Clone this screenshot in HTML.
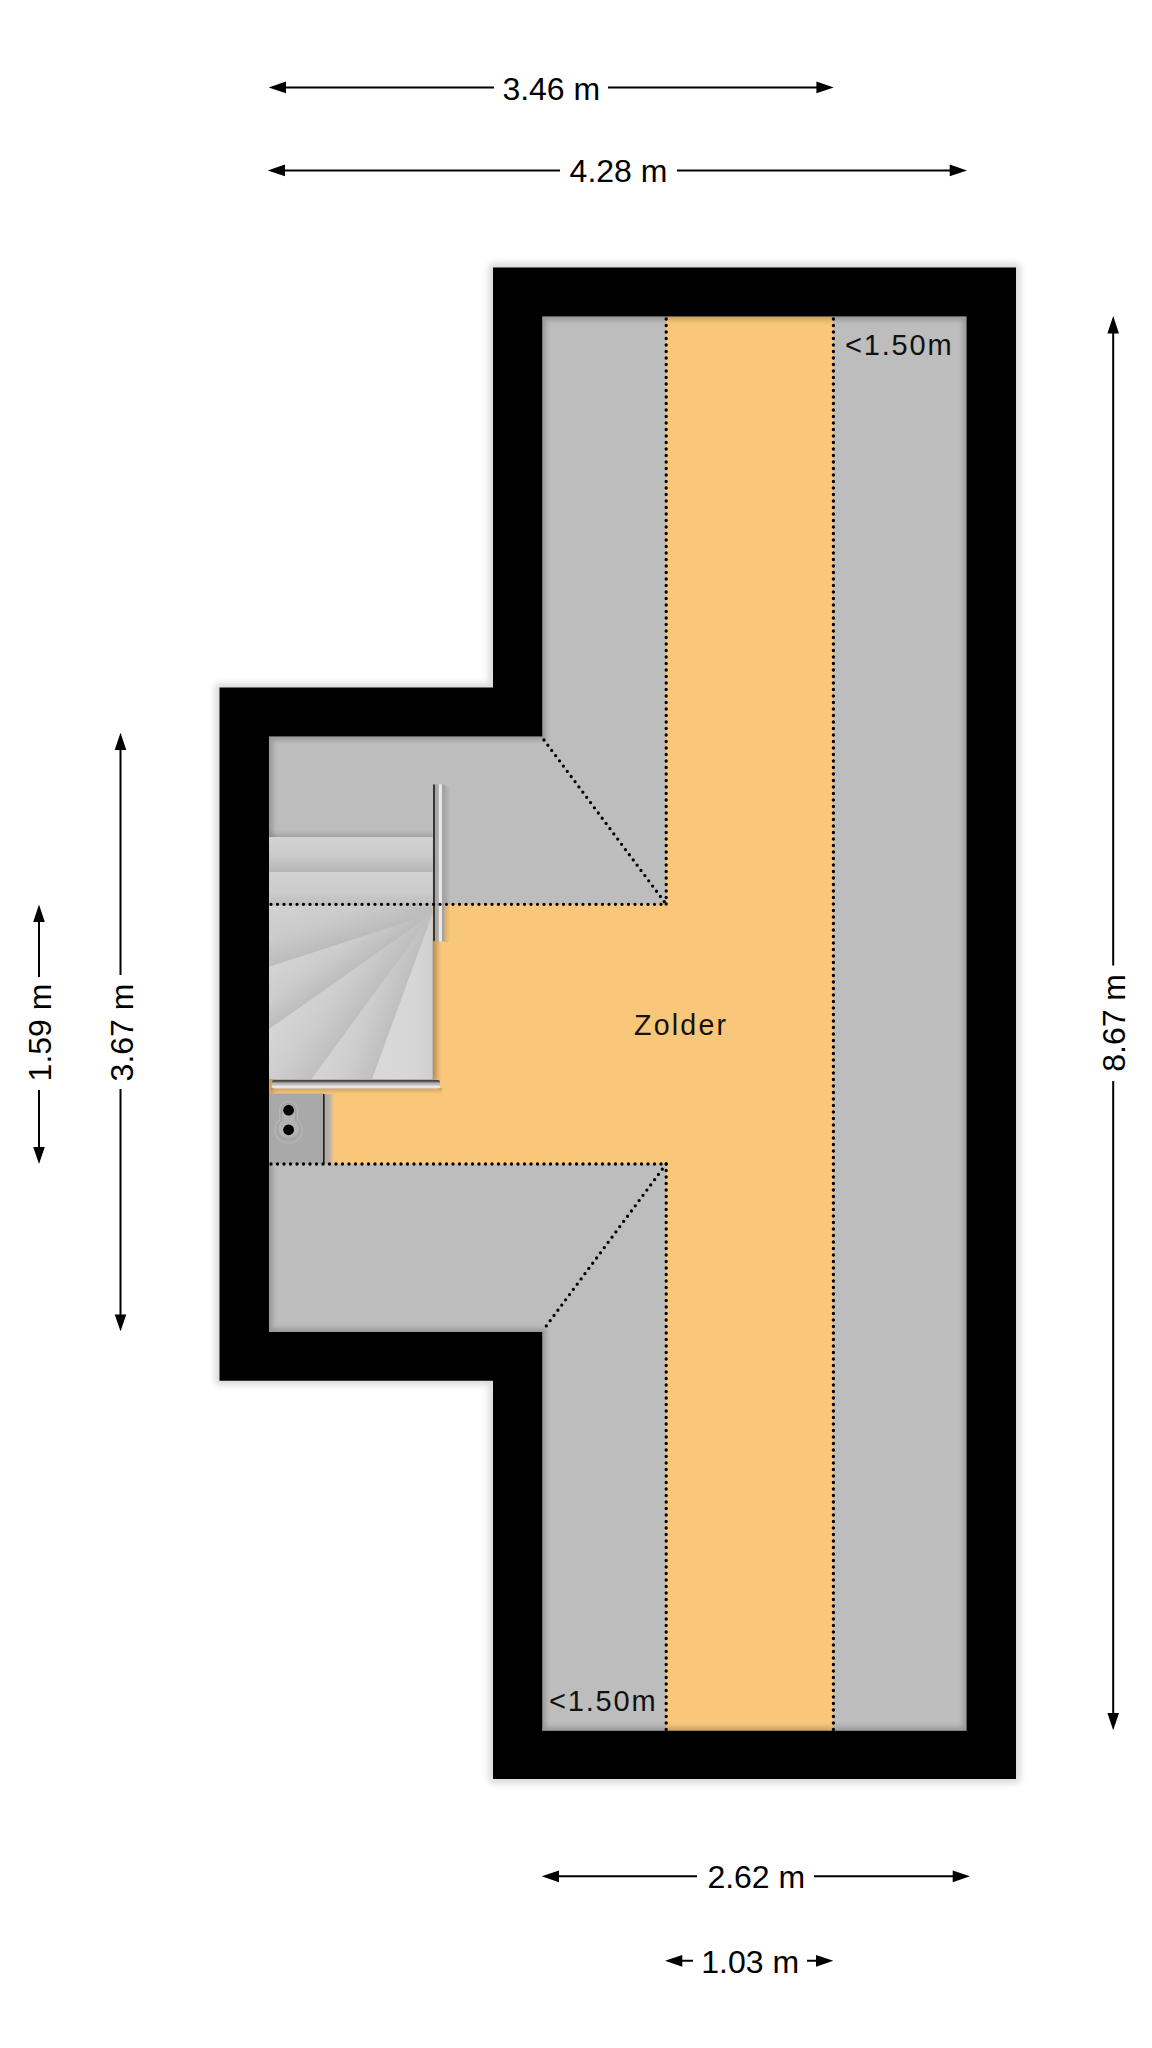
<!DOCTYPE html>
<html><head><meta charset="utf-8">
<style>
html,body{margin:0;padding:0;background:#fff;width:1152px;height:2048px;overflow:hidden}
svg{display:block}
text{font-family:"Liberation Sans",sans-serif}
.dim{font-size:32px;fill:#000}
.lbl{font-size:29px;fill:#111;letter-spacing:1.8px}
.dl{stroke:#000;stroke-width:2.0;fill:none}
.dot{stroke:#000;stroke-width:3.3;stroke-linecap:round;stroke-dasharray:0 6.5;fill:none}
</style></head>
<body>
<svg width="1152" height="2048" viewBox="0 0 1152 2048">
<defs>
  <filter id="osh" x="-20%" y="-20%" width="140%" height="140%">
    <feGaussianBlur stdDeviation="3"/>
  </filter>
  <filter id="ish" x="-20%" y="-20%" width="140%" height="140%">
    <feGaussianBlur stdDeviation="2.6"/>
  </filter>
  <clipPath id="room"><path d="M542.3 316.6H966.5V1730.7H542.3V1332H269V736.6H542.3Z"/></clipPath>
</defs>
<!-- outer shadow -->
<path d="M493 267.4H1016V1779H493V1380.8H219.5V687.6H493Z" fill="#000" stroke="#000" stroke-width="9" stroke-linejoin="round" opacity="0.14" filter="url(#osh)"/>

<!-- room floor -->
<path d="M542.3 316.6H966.5V1730.7H542.3V1332H269V736.6H542.3Z" fill="#bdbdbd"/>
<!-- orange T -->
<path d="M666 316.6H833.5V1730.7H666V1164H269V904.3H666Z" fill="#f9c77a"/>
<!-- inner shadow -->
<g clip-path="url(#room)"><path d="M542.3 316.6H966.5V1730.7H542.3V1332H269V736.6H542.3Z" fill="none" stroke="#000" stroke-width="7" opacity="0.2" filter="url(#ish)"/></g>

<!-- stairs -->
<g id="stairs">
  <defs>
    <linearGradient id="sA" x1="0" y1="837" x2="0" y2="872" gradientUnits="userSpaceOnUse"><stop offset="0" stop-color="#d4d4d4"/><stop offset="0.55" stop-color="#cacaca"/><stop offset="1" stop-color="#b6b6b6"/></linearGradient>
    <linearGradient id="sB" x1="0" y1="872" x2="0" y2="906" gradientUnits="userSpaceOnUse"><stop offset="0" stop-color="#d2d2d2"/><stop offset="0.6" stop-color="#cbcbcb"/><stop offset="1" stop-color="#bdbdbd"/></linearGradient>
    <linearGradient id="w0" x1="268.5" y1="905" x2="287.5" y2="960.5" gradientUnits="userSpaceOnUse"><stop offset="0" stop-color="#d3d3d3"/><stop offset="0.55" stop-color="#cbcbcb"/><stop offset="1" stop-color="#bcbcbc"/></linearGradient>
    <linearGradient id="w1" x1="268.5" y1="967" x2="298.2" y2="1008.1" gradientUnits="userSpaceOnUse"><stop offset="0" stop-color="#d4d4d4"/><stop offset="0.55" stop-color="#cccccc"/><stop offset="1" stop-color="#bdbdbd"/></linearGradient>
    <linearGradient id="w2" x1="268.5" y1="1029.6" x2="320.4" y2="1066.9" gradientUnits="userSpaceOnUse"><stop offset="0" stop-color="#d6d6d6"/><stop offset="0.55" stop-color="#cdcdcd"/><stop offset="1" stop-color="#bfbfbf"/></linearGradient>
    <linearGradient id="w3" x1="311.7" y1="1079" x2="365.2" y2="1098.2" gradientUnits="userSpaceOnUse"><stop offset="0" stop-color="#d5d5d5"/><stop offset="0.55" stop-color="#cdcdcd"/><stop offset="1" stop-color="#bfbfbf"/></linearGradient>
    <linearGradient id="w4" x1="372.1" y1="1079" x2="432.5" y2="1079" gradientUnits="userSpaceOnUse"><stop offset="0" stop-color="#d9d9d9"/><stop offset="0.7" stop-color="#d6d6d6"/><stop offset="1" stop-color="#cfcfcf"/></linearGradient>
    <linearGradient id="sttop" x1="0" y1="829" x2="0" y2="837" gradientUnits="userSpaceOnUse"><stop offset="0" stop-color="#000" stop-opacity="0"/><stop offset="1" stop-color="#000" stop-opacity="0.1"/></linearGradient>
    <filter id="stsh" x="-10%" y="-10%" width="130%" height="130%"><feGaussianBlur in="SourceAlpha" stdDeviation="3"/><feOffset dx="3" dy="2"/><feComponentTransfer><feFuncA type="linear" slope="0.22"/></feComponentTransfer><feMerge><feMergeNode/><feMergeNode in="SourceGraphic"/></feMerge></filter>
  </defs>
  <rect x="268.5" y="829" width="164" height="8" fill="url(#sttop)"/>
  <g filter="url(#stsh)">
  <rect x="268.5" y="837" width="164" height="242" fill="#c9c9c9"/>
  <rect x="268.5" y="837" width="164" height="35" fill="url(#sA)"/>
  <rect x="268.5" y="872" width="164" height="34" fill="url(#sB)"/>
  <path d="M432.5 914V905.5H268.5V967Z" fill="url(#w0)"/>
  <path d="M432.5 914L268.5 967V1029.6Z" fill="url(#w1)"/>
  <path d="M432.5 914L268.5 1029.6V1079H311.7Z" fill="url(#w2)"/>
  <path d="M432.5 914L311.7 1079H372.1Z" fill="url(#w3)"/>
  <path d="M432.5 914L372.1 1079H432.5V906Z" fill="url(#w4)"/>
  </g>
</g>
<!-- toilet -->
<g id="wc">
  <defs>
    <linearGradient id="wcsh" x1="323" y1="0" x2="335" y2="0" gradientUnits="userSpaceOnUse"><stop offset="0" stop-color="#a4a4a4" stop-opacity="1"/><stop offset="0.55" stop-color="#b0aeab" stop-opacity="0.85"/><stop offset="1" stop-color="#c8bca8" stop-opacity="0"/></linearGradient>
  </defs>
  <rect x="323.5" y="1094" width="12" height="70" rx="3" fill="url(#wcsh)"/>
  <rect x="268.5" y="1093.5" width="55.5" height="70.5" fill="#a9a9a9"/>
  <rect x="323" y="1094" width="1.6" height="70" fill="#1e1e1e"/>
  <path d="M288.6 1101.5c5.5 0 9 3.5 9 8.5v10c3.5 3 4.5 6.5 4.5 10c0 7.5-6 13-13.5 13s-13.5-5.5-13.5-13c0-3.5 1-7 4.5-10v-10c0-5 3.5-8.5 9-8.5Z" fill="none" stroke="#bababa" stroke-width="1.2" opacity="0.8"/>
  <path d="M288.6 1103.5c4.2 0 7 3 7 6.5v10.5c3 2.5 4 5.5 4 8.5c0 6-5 10-11 10s-11-4-11-10c0-3 1-6 4-8.5v-10.5c0-3.5 2.8-6.5 7-6.5Z" fill="#b3b3b3" stroke="#9a9a9a" stroke-width="0.8"/>
  <circle cx="288.6" cy="1110.2" r="5.4" fill="#000"/>
  <circle cx="288.6" cy="1129.8" r="5.4" fill="#000"/>
</g>
<!-- rails -->
<g id="rails">
  <defs>
    <linearGradient id="vrsh" x1="444.5" y1="0" x2="450.5" y2="0" gradientUnits="userSpaceOnUse"><stop offset="0" stop-color="#000" stop-opacity="0.13"/><stop offset="1" stop-color="#000" stop-opacity="0"/></linearGradient>
    <linearGradient id="hrg" x1="0" y1="1079.9" x2="0" y2="1088.4" gradientUnits="userSpaceOnUse"><stop offset="0" stop-color="#3c3c3c"/><stop offset="0.2" stop-color="#5a5a5a"/><stop offset="0.35" stop-color="#a8a8a8"/><stop offset="0.6" stop-color="#c8c8c8"/><stop offset="0.8" stop-color="#eeeeee"/><stop offset="1" stop-color="#dadada"/></linearGradient>
    <linearGradient id="hrsh" x1="0" y1="1088" x2="0" y2="1094" gradientUnits="userSpaceOnUse"><stop offset="0" stop-color="#000" stop-opacity="0.18"/><stop offset="1" stop-color="#000" stop-opacity="0"/></linearGradient>
    <linearGradient id="stsr" x1="432.5" y1="0" x2="441" y2="0" gradientUnits="userSpaceOnUse"><stop offset="0" stop-color="#000" stop-opacity="0.14"/><stop offset="1" stop-color="#000" stop-opacity="0"/></linearGradient>
  </defs>
  <rect x="432.5" y="941" width="8.5" height="139" fill="url(#stsr)"/>
  <rect x="444.5" y="786" width="6" height="156" fill="url(#vrsh)"/>
  <rect x="271" y="1088" width="171" height="6" fill="url(#hrsh)"/>
  <rect x="433" y="784.3" width="2" height="157" rx="1" fill="#353535"/>
  <rect x="435" y="784.3" width="3.8" height="157" fill="#a8a8a8"/>
  <rect x="438.8" y="784.3" width="3.2" height="157" fill="#e8e8e8"/>
  <rect x="442" y="784.3" width="2.5" height="157" fill="#a2a2a2"/>
  <rect x="272" y="1079.9" width="168" height="8.5" rx="2" fill="url(#hrg)"/>
</g>

<!-- dotted lines -->
<path class="dot" d="M666.2 319V904.3"/>
<path class="dot" d="M544 740L666.2 904.3"/>
<path class="dot" d="M271 904.3H666.2"/>
<path class="dot" d="M666.2 1164V1730"/>
<path class="dot" d="M666.2 1164L544 1329"/>
<path class="dot" d="M271 1164H666.2"/>
<path class="dot" d="M833.4 319V1730"/>

<!-- walls -->
<path fill-rule="evenodd" fill="#000" d="M493 267.4H1016V1779H493V1380.8H219.5V687.6H493Z M542.3 316.6V736.6H269V1332H542.3V1730.7H966.5V316.6Z"/>

<!-- labels -->
<text class="lbl" x="845" y="355">&lt;1.50m</text>
<text class="lbl" x="549" y="1711">&lt;1.50m</text>
<text x="634" y="1035" style="font-size:28.6px;fill:#161210;letter-spacing:2.2px">Zolder</text>

<!-- dimensions top -->
<path class="dl" d="M285 87.4H494M608 87.4H817"/>
<path d="M268.7 87.4L286 81.5V93.3Z M833.7 87.4L816.4 81.5V93.3Z"/>
<text class="dim" x="551.3" y="99.5" text-anchor="middle">3.46 m</text>

<path class="dl" d="M285 170.4H560M677 170.4H950"/>
<path d="M267.7 170.4L285 164.5V176.3Z M967 170.4L949.7 164.5V176.3Z"/>
<text class="dim" x="618.5" y="182.2" text-anchor="middle">4.28 m</text>

<!-- bottom -->
<path class="dl" d="M559 1876.3H697M814 1876.3H953"/>
<path d="M541.7 1876.3L559 1870.4V1882.2Z M970 1876.3L952.7 1870.4V1882.2Z"/>
<text class="dim" x="756.3" y="1888.4" text-anchor="middle">2.62 m</text>

<path class="dl" d="M682 1960.8H693M807 1960.8H816"/>
<path d="M665 1960.8L682.3 1954.9V1966.7Z M833.3 1960.8L816 1954.9V1966.7Z"/>
<text class="dim" x="750.2" y="1973" text-anchor="middle">1.03 m</text>

<!-- right vertical -->
<path class="dl" d="M1113.2 333V965.6M1113.2 1081V1714"/>
<path d="M1113.2 316L1107.4 333.4H1119Z M1113.2 1730.3L1107.4 1713H1119Z"/>
<text class="dim" text-anchor="middle" transform="translate(1125 1022.9) rotate(-90)">8.67 m</text>

<!-- left verticals -->
<path class="dl" d="M39 921V977M39 1090V1147"/>
<path d="M39 904.6L33.2 922H44.8Z M39 1163.9L33.2 1147H44.8Z"/>
<text class="dim" text-anchor="middle" transform="translate(51.3 1032.5) rotate(-90)">1.59 m</text>

<path class="dl" d="M120.5 750V975M120.5 1089V1315"/>
<path d="M120.5 732.7L114.7 750H126.3Z M120.5 1331.3L114.7 1314.6H126.3Z"/>
<text class="dim" text-anchor="middle" transform="translate(132.7 1032.5) rotate(-90)">3.67 m</text>
</svg>
</body></html>
